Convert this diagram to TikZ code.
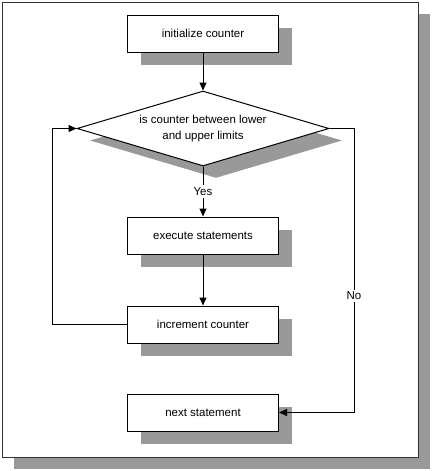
\documentclass[tikz,border=0pt]{standalone}
\usepackage{fontspec}
\setmainfont{Liberation Sans}
\usepackage{tikz}
\usetikzlibrary{arrows.meta,shapes.geometric,shadows}
\definecolor{shadowgray}{RGB}{153,153,153}
\tikzstyle{box}=[draw, fill=white, line width=1pt, minimum width=151pt, minimum height=37pt, inner sep=0pt, drop shadow={shadow xshift=13pt, shadow yshift=-13pt, fill=shadowgray, opacity=1}]
\tikzstyle{decision}=[diamond, draw, fill=white, line width=1pt, align=center, minimum width=252pt, minimum height=75pt, aspect=3.36, inner sep=0pt, drop shadow={shadow xshift=13pt, shadow yshift=-12pt, fill=shadowgray, opacity=1}]
\tikzstyle{frame}=[draw=black!80, fill=white, line width=1pt, drop shadow={shadow xshift=12pt, shadow yshift=-12pt, fill=shadowgray, opacity=1}]
\tikzstyle{edge} = [draw, line width=1pt, -{Triangle[length=8pt,width=7pt]}]
\tikzstyle{note} = [draw=none, fill=white, inner sep=2pt, align=center]
\begin{document}
\begin{tikzpicture}[x=1pt, y=-1pt, font=\fontsize{11.5}{16}\selectfont]
	\useasboundingbox (0,0) rectangle (433,471);
	% Page frame
	\path[frame] (2,2) rectangle (418,457);
	
	% First we draw the steps
	\foreach \pos/\label/\name in {
		{(203,33.5)/init/initialize counter},
		{(203,235.5)/exec/execute statements},
		{(203,324.5)/incr/increment counter},
		{(203,412.5)/next/next statement}}
	\node[box] (\label) at \pos {\name};
	
	\node[decision] (test) at (203,128.5) {is counter between lower\\and upper limits};
	
	% Corners of the loop and of the exit
	\coordinate (loopbot) at (52,324.5);
	\coordinate (looptop) at (52,128.5);
	\coordinate (exittop) at (354,128.5);
	\coordinate (exitbot) at (354,412.5);
	
	% Connect steps with edges and draw labels
	\foreach \source/ \dest in {
		init/test,
		exec/incr}
	\path[edge] (\source) -- (\dest);
	\path[edge] (test) -- node[note] {Yes} (exec);
	\path[edge] (incr.west) -- (loopbot) -- (looptop) -- (test.west);
	\path[edge] (test.east) -- (exittop) -- node[note, pos=0.59] {No} (exitbot) -- (next.east);
\end{tikzpicture}
\end{document}
